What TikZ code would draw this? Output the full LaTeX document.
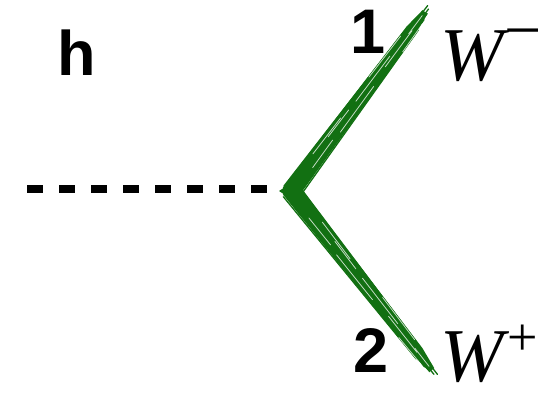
\documentclass[tikz,border=0pt]{standalone}
\usepackage{fontspec}
\setmainfont{Liberation Serif}
\newfontfamily\labelsans{Liberation Sans}
\usetikzlibrary{calc}
\definecolor{wgreen}{RGB}{18,112,18}
\tikzset{
  hline/.style={line width=8pt, dash pattern=on 16pt off 16pt},
  numlbl/.style={inner sep=0pt, font=\labelsans\bfseries\fontsize{63}{63}\selectfont},
  wlbl/.style={inner sep=0pt, font=\itshape\fontsize{76}{76}\selectfont},
  chglbl/.style={inner sep=0pt, font=\fontsize{#1}{#1}\selectfont},
  streak/.style={draw=wgreen, line width=1.3pt, line cap=round},
  gapline/.style={draw=white, line width=0.8pt, opacity=0.75, line cap=round},
}
\newcommand{\brushstk}[3]{%
  \begin{scope}[shift={(#1)}, rotate=#2]
    \fill[wgreen] (0,9) -- (0.9*#3,6) -- (#3,3) -- (#3,-3) -- (0.9*#3,-6) -- (0,-9) -- cycle;
    \foreach \o/\e in {-10/0.92, -7/0.97, -5/1.0, -2/1.02, 1/0.99, 3/1.03, 5/0.96, 9/0.9}
      \draw[streak] (2,\o) -- (\e*#3, \o*0.55);
    \foreach \o/\a/\b in {-4/0.35/0.6, 2/0.5/0.75, 5/0.2/0.4, -1/0.7/0.9, -6/0.8/0.95, 6/0.62/0.85, 0/0.88/0.98, -3/0.15/0.3, 3/0.3/0.45}
      \draw[gapline] (\a*#3, \o) -- (\b*#3, \o*0.85);
  \end{scope}}
\begin{document}
\begin{tikzpicture}[x=1pt,y=1pt]
  \useasboundingbox (0,0) rectangle (558,392);
  % vertex and line ends
  \coordinate (hin) at (27,203);
  \coordinate (v) at (283,203);
  \coordinate (vt) at (290,199);
  \coordinate (vb) at (290,203);
  \coordinate (wm) at (425,380);
  \coordinate (wp) at (432,22);
  % higgs dashed line
  \draw[hline] (hin) -- (v);
  % W boson brush strokes
  \brushstk{vt}{53.3}{225.8}
  \brushstk{vb}{-51.9}{230}
  \fill[wgreen] (279,201) -- (291,209) -- (291,193) -- cycle;
  % labels
  \node[numlbl] (hlbl) at (77,339) {h};
  \node[numlbl] (one) at (368,360) {1};
  \node[numlbl] (two) at (371,41) {2};
  \node[wlbl] (wminus) at (472,336) {W};
  \node[chglbl=66] (minus) at (523,351) {−};
  \node[wlbl] (wplus) at (472,35) {W};
  \node[chglbl=54] (plus) at (523,52) {+};
\end{tikzpicture}
\end{document}
